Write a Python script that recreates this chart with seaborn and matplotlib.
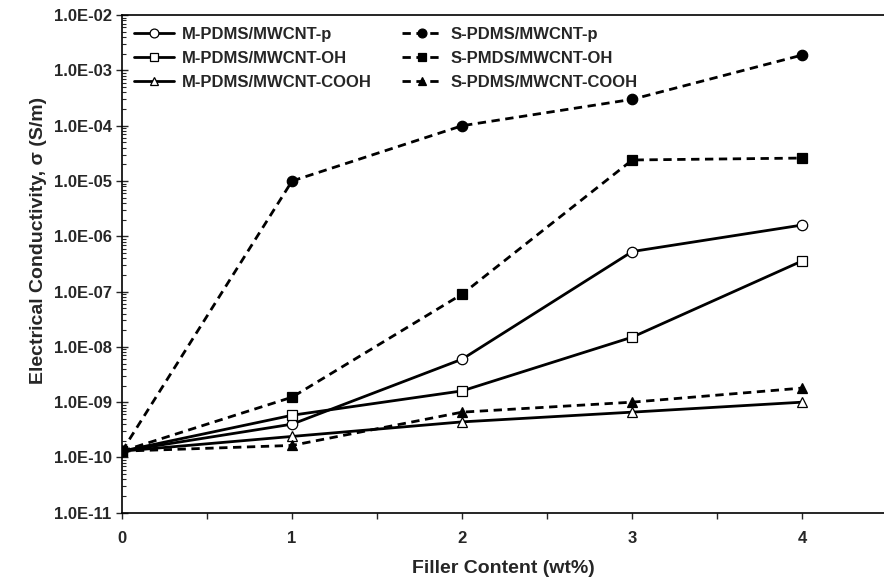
import numpy as np
import pandas as pd
import seaborn as sns
from matplotlib import pyplot as plt
import matplotlib.ticker as plticker

sns.set_style("ticks")
plt.rcParams["font.family"] = ["Liberation Sans", "DejaVu Sans"]

filler = [0, 1, 2, 3, 4]

m_p = [1.3e-10, 4.0e-10, 6.0e-9, 5.3e-7, 1.6e-6]
m_oh = [1.3e-10, 5.8e-10, 1.6e-9, 1.5e-8, 3.6e-7]
m_cooh = [1.3e-10, 2.4e-10, 4.4e-10, 6.6e-10, 1.0e-9]
s_p = [1.3e-10, 1.0e-5, 1.0e-4, 3.0e-4, 1.9e-3]
s_oh = [1.3e-10, 1.23e-9, 9.0e-8, 2.4e-5, 2.6e-5]
s_cooh = [1.3e-10, 1.65e-10, 6.6e-10, 1.0e-9, 1.8e-9]

series = [
    ("M-PDMS/MWCNT-p", m_p, "o", "white", "-"),
    ("M-PDMS/MWCNT-OH", m_oh, "s", "white", "-"),
    ("M-PDMS/MWCNT-COOH", m_cooh, "^", "white", "-"),
    ("S-PDMS/MWCNT-p", s_p, "o", "black", (0, (3, 2))),
    ("S-PMDS/MWCNT-OH", s_oh, "s", "black", (0, (3, 2))),
    ("S-PDMS/MWCNT-COOH", s_cooh, "^", "black", (0, (3, 2))),
]


def plot_data(filename):
    fig = plt.figure(figsize=(8.84, 5.82), dpi=100)
    ax = fig.add_axes([0.138, 0.119, 0.862, 0.855])
    for name, vals, mk, fc, ls in series:
        df = pd.DataFrame({"x": filler, "y": vals})
        sns.lineplot(data=df, x="x", y="y", ax=ax, color="black", linestyle=ls,
                     linewidth=2.0, marker=mk, markersize=7.5, markerfacecolor=fc,
                     markeredgecolor="black", markeredgewidth=0.9, label=name)

    ax.set_yscale("log")
    ax.set_ylim(1e-11, 1e-2)
    ax.set_xlim(0, 4.48)
    ax.yaxis.set_major_locator(plticker.LogLocator(base=10, numticks=20))
    ax.yaxis.set_minor_locator(plticker.LogLocator(base=10, subs=np.arange(2, 10), numticks=20))
    ax.yaxis.set_minor_formatter(plticker.NullFormatter())
    ax.yaxis.set_major_formatter(plticker.FuncFormatter(lambda v, p: "%.1E" % v))
    ax.xaxis.set_major_locator(plticker.MultipleLocator(1))
    ax.xaxis.set_minor_locator(plticker.MultipleLocator(0.5))

    ax.tick_params(axis="y", which="major", direction="inout", length=8, width=1, labelsize=12)
    ax.tick_params(axis="y", which="minor", direction="in", length=3, width=0.8)
    ax.tick_params(axis="x", which="both", direction="out", length=4, width=1, labelsize=12, pad=9)
    for lab in ax.get_xticklabels() + ax.get_yticklabels():
        lab.set_fontweight("bold")

    for side in ["left", "top", "bottom"]:
        ax.spines[side].set_linewidth(1.2)
        ax.spines[side].set_color("black")
    ax.spines["right"].set_visible(False)

    ax.set_xlabel("Filler Content (wt%)", fontsize=14, fontweight="bold", labelpad=10)
    ax.set_ylabel("Electrical Conductivity, σ (S/m)", fontsize=14, fontweight="bold")
    ax.yaxis.set_label_coords(-0.098, 0.548)

    leg = ax.legend(ncol=2, loc="upper left", frameon=False, fontsize=12,
                    handlelength=2.4, columnspacing=1.8, labelspacing=0.55,
                    handletextpad=0.5, markerscale=0.85,
                    borderaxespad=0.3, bbox_to_anchor=(0.0, 1.0))
    for t in leg.get_texts():
        t.set_fontweight("bold")

    fig.savefig(filename, dpi=100)


plot_data("out.png")
